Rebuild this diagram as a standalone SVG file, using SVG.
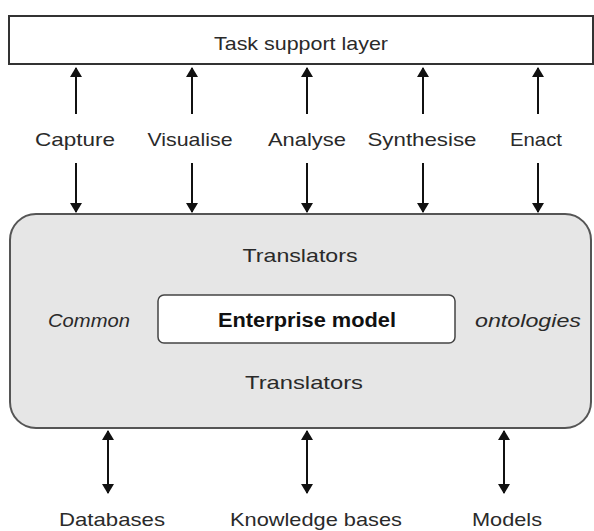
<svg xmlns="http://www.w3.org/2000/svg" width="594" height="531" viewBox="0 0 594 531">
  <defs>
    <marker id="head" viewBox="0 0 10 12" refX="9" refY="6" markerWidth="10" markerHeight="12" markerUnits="userSpaceOnUse" orient="auto-start-reverse">
      <path d="M0,0 L10,6 L0,12 Z" fill="#111"/>
    </marker>
  </defs>
  <style>
    text { font-family: "Liberation Sans", Arial, sans-serif; fill: #2a2a2a; }
    .lbl { font-size: 19px; text-anchor: middle; }
    .it { font-size: 19px; font-style: italic; text-anchor: middle; }
    .bold { font-size: 20px; font-weight: bold; text-anchor: middle; fill: #111; }
    .conn line { stroke: #111; stroke-width: 2; }
  </style>
  <rect width="594" height="531" fill="#ffffff"/>

  <g id="task-support-layer">
    <rect x="9" y="16" width="584" height="48" fill="#ffffff" stroke="#333" stroke-width="2"/>
    <text class="lbl" x="301" y="50" textLength="174" lengthAdjust="spacingAndGlyphs">Task support layer</text>
  </g>

  <g id="enterprise-layer">
    <rect x="10" y="214" width="581" height="214" rx="26" ry="26" fill="#e6e6e6" stroke="#555" stroke-width="2"/>
    <text class="lbl" x="300" y="262" textLength="115" lengthAdjust="spacingAndGlyphs">Translators</text>
    <text class="it" x="89" y="327" textLength="82" lengthAdjust="spacingAndGlyphs">Common</text>
    <text class="it" x="528" y="327" textLength="106" lengthAdjust="spacingAndGlyphs">ontologies</text>
    <text class="lbl" x="304" y="389" textLength="118" lengthAdjust="spacingAndGlyphs">Translators</text>
  </g>

  <g id="enterprise-model">
    <rect x="158" y="295" width="297" height="48" rx="6" ry="6" fill="#ffffff" stroke="#444" stroke-width="1.5"/>
    <text class="bold" x="307" y="327" textLength="178" lengthAdjust="spacingAndGlyphs">Enterprise model</text>
  </g>

  <g id="activities">
    <text class="lbl" x="75" y="146" textLength="80" lengthAdjust="spacingAndGlyphs">Capture</text>
    <text class="lbl" x="190" y="146" textLength="85" lengthAdjust="spacingAndGlyphs">Visualise</text>
    <text class="lbl" x="307" y="146" textLength="78" lengthAdjust="spacingAndGlyphs">Analyse</text>
    <text class="lbl" x="422" y="146" textLength="109" lengthAdjust="spacingAndGlyphs">Synthesise</text>
    <text class="lbl" x="536" y="146" textLength="52" lengthAdjust="spacingAndGlyphs">Enact</text>
  </g>

  <g id="sources">
    <text class="lbl" x="112" y="526" textLength="106" lengthAdjust="spacingAndGlyphs">Databases</text>
    <text class="lbl" x="316" y="526" textLength="172" lengthAdjust="spacingAndGlyphs">Knowledge bases</text>
    <text class="lbl" x="507" y="526" textLength="70" lengthAdjust="spacingAndGlyphs">Models</text>
  </g>

  <g id="connectors" class="conn">
    <!-- up to the task support layer -->
    <line x1="76" y1="114" x2="76" y2="68" marker-end="url(#head)"/>
    <line x1="192" y1="114" x2="192" y2="68" marker-end="url(#head)"/>
    <line x1="307" y1="114" x2="307" y2="68" marker-end="url(#head)"/>
    <line x1="423" y1="114" x2="423" y2="68" marker-end="url(#head)"/>
    <line x1="538" y1="114" x2="538" y2="68" marker-end="url(#head)"/>
    <!-- down to the enterprise layer -->
    <line x1="76" y1="163" x2="76" y2="212" marker-end="url(#head)"/>
    <line x1="192" y1="163" x2="192" y2="212" marker-end="url(#head)"/>
    <line x1="307" y1="163" x2="307" y2="212" marker-end="url(#head)"/>
    <line x1="423" y1="163" x2="423" y2="212" marker-end="url(#head)"/>
    <line x1="538" y1="163" x2="538" y2="212" marker-end="url(#head)"/>
    <!-- two-way links to the sources -->
    <line x1="108" y1="431" x2="108" y2="493" marker-start="url(#head)" marker-end="url(#head)"/>
    <line x1="307" y1="431" x2="307" y2="493" marker-start="url(#head)" marker-end="url(#head)"/>
    <line x1="504" y1="431" x2="504" y2="493" marker-start="url(#head)" marker-end="url(#head)"/>
  </g>
</svg>
